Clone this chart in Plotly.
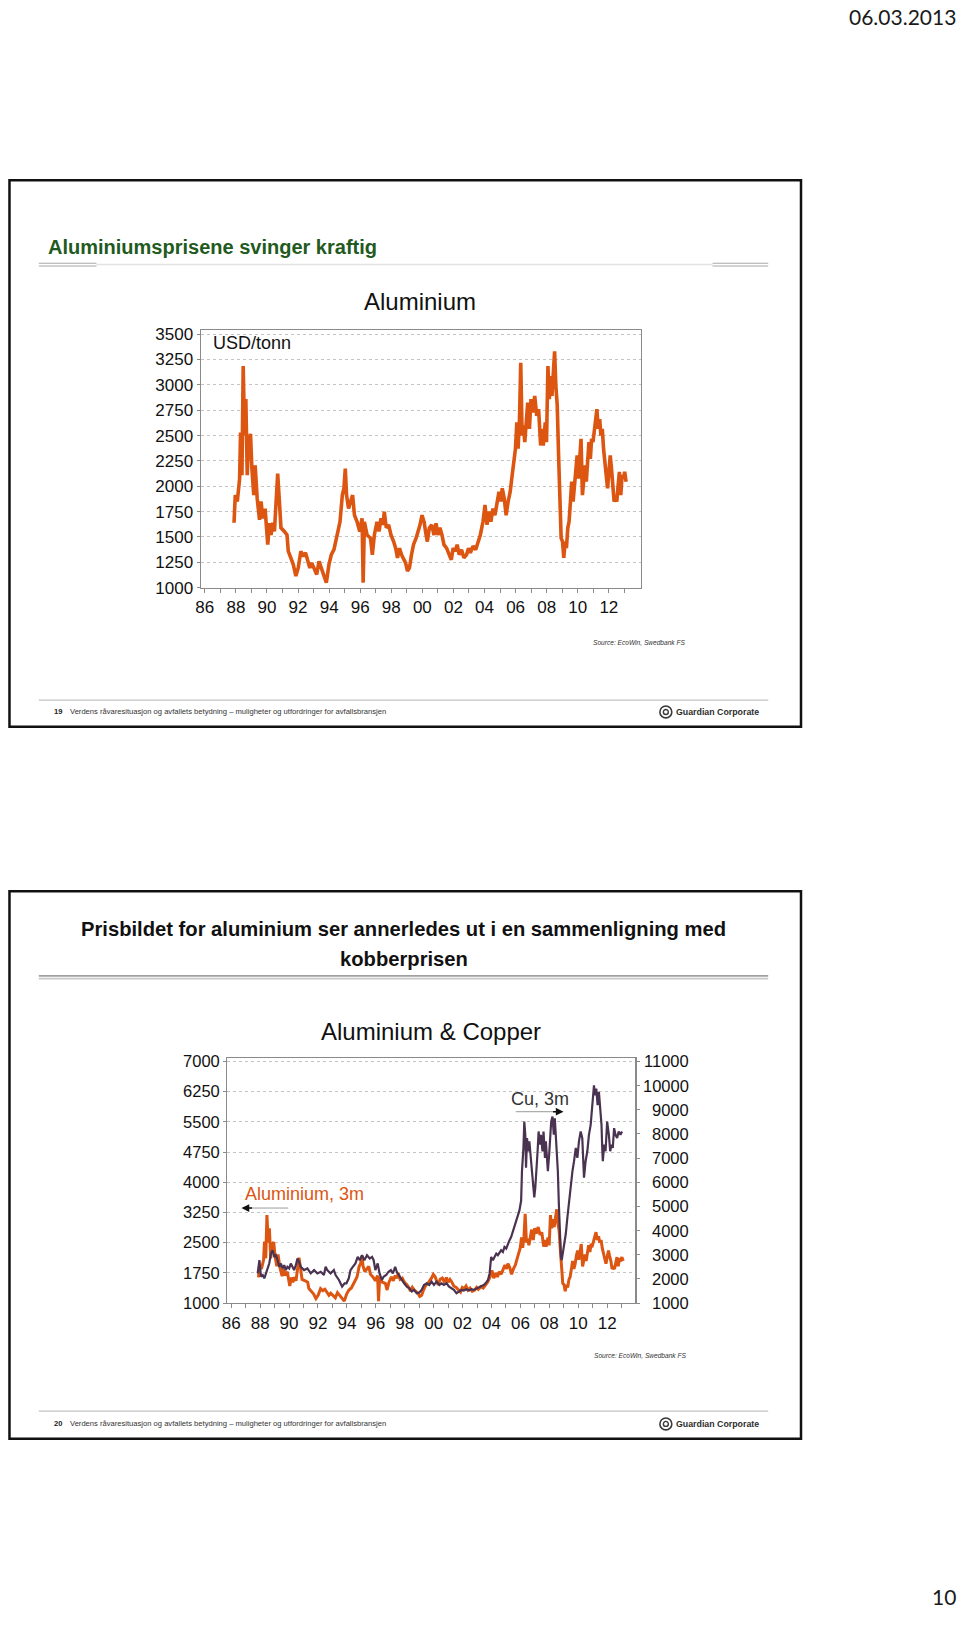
import plotly.graph_objects as go

# ---------------- data ----------------
al_year = [1987.88,1987.96,1988.09,1988.24,1988.30,1988.39,1988.47,1988.56,1988.64,1988.73,
           1988.81,1988.94,1989.03,1989.15,1989.24,1989.37,1989.52,1989.62,1989.73,1989.88,
           1990.05,1990.16,1990.26,1990.37,1990.48,1990.58,1990.69,1990.80,1990.90,1991.12,
           1991.29,1991.37,1991.54,1991.69,1991.86,1992.01,1992.18,1992.33,1992.48,1992.61,
           1992.76,1992.88,1993.03,1993.20,1993.35,1993.50,1993.67,1993.82,1993.99,1994.14,
           1994.31,1994.53,1994.70,1994.85,1994.95,1995.04,1995.12,1995.25,1995.38,1995.51,
           1995.63,1995.80,1995.97,1996.12,1996.19,1996.27,1996.44,1996.66,1996.78,1996.91,
           1997.08,1997.21,1997.34,1997.47,1997.55,1997.68,1997.83,1997.98,1998.15,1998.28,
           1998.40,1998.53,1998.66,1998.79,1998.92,1999.04,1999.17,1999.30,1999.43,1999.60,
           1999.73,1999.85,1999.98,2000.11,2000.24,2000.32,2000.45,2000.60,2000.75,2000.88,
           2001.00,2001.13,2001.26,2001.39,2001.56,2001.73,2001.86,2001.98,2002.11,2002.24,
           2002.37,2002.52,2002.67,2002.84,2002.97,2003.09,2003.26,2003.43,2003.58,2003.73,
           2003.90,2004.03,2004.16,2004.29,2004.41,2004.54,2004.67,2004.80,2004.93,2005.05,
           2005.14,2005.27,2005.39,2005.52,2005.65,2005.78,2005.91,2005.99,2006.08,2006.16,
           2006.25,2006.33,2006.42,2006.50,2006.59,2006.67,2006.78,2006.89,2006.99,2007.10,
           2007.23,2007.36,2007.48,2007.61,2007.70,2007.78,2007.91,2007.99,2008.08,2008.17,
           2008.25,2008.34,2008.42,2008.51,2008.59,2008.68,2008.76,2008.85,2008.93,2009.02,
           2009.10,2009.19,2009.27,2009.36,2009.44,2009.53,2009.61,2009.70,2009.79,2009.87,
           2009.96,2010.04,2010.13,2010.21,2010.30,2010.38,2010.47,2010.55,2010.64,2010.72,
           2010.81,2010.89,2010.98,2011.06,2011.15,2011.23,2011.32,2011.41,2011.49,2011.58,
           2011.66,2011.75,2011.83,2011.92,2012.00,2012.09,2012.17,2012.26,2012.34,2012.43,
           2012.51,2012.60,2012.68,2012.77,2012.85,2012.94,2013.02,2013.11]
al_usd = [1640,1913,1850,2076,2530,2110,3185,2500,2860,2110,
          2435,2516,2175,1913,2207,1880,1670,1850,1685,1780,
          1424,1636,1520,1640,1555,1815,2125,1850,1590,1555,
          1520,1360,1295,1230,1115,1195,1360,1310,1345,1275,
          1195,1245,1180,1130,1260,1195,1115,1050,1230,1325,
          1375,1520,1650,1913,1980,2175,1913,1780,1850,1913,
          1715,1650,1555,1685,1050,1650,1520,1490,1325,1520,
          1650,1555,1685,1620,1750,1590,1620,1520,1455,1390,
          1295,1390,1325,1275,1245,1165,1195,1325,1424,1490,
          1555,1620,1715,1650,1520,1455,1590,1620,1520,1636,
          1520,1590,1520,1424,1390,1325,1275,1390,1360,1424,
          1325,1375,1295,1325,1390,1345,1410,1375,1455,1520,
          1650,1815,1620,1750,1650,1780,1715,1850,1945,1850,
          1980,1880,1715,1850,1945,2110,2270,2370,2630,2370,
          2663,3217,2500,2600,2435,2630,2825,2565,2860,2728,
          2890,2695,2760,2402,2565,2402,2630,2435,3185,2860,
          3087,2890,3120,3330,2990,2795,2337,1945,1490,1455,
          1295,1455,1390,1590,1650,1850,2045,1850,1980,2175,
          2305,2075,2305,2467,1913,2110,2207,2045,2305,2435,
          2270,2467,2435,2565,2663,2760,2565,2663,2500,2565,
          2370,2175,2110,1980,2175,2305,2175,2045,1850,1880,
          1850,2011,2142,1913,2110,2075,2142,2045]

cu_year = [1987.83,1987.95,1988.06,1988.18,1988.29,1988.41,1988.52,1988.63,1988.75,1988.86,
           1988.98,1989.09,1989.21,1989.32,1989.44,1989.55,1989.67,1989.78,1989.89,1990.01,
           1990.12,1990.24,1990.35,1990.47,1990.58,1990.70,1990.81,1991.04,1991.27,1991.50,
           1991.73,1991.96,1992.19,1992.41,1992.53,1992.64,1992.87,1993.10,1993.22,1993.45,
           1993.67,1993.84,1993.97,1994.13,1994.25,1994.41,1994.59,1994.75,1994.89,1995.05,
           1995.21,1995.39,1995.58,1995.74,1995.85,1995.97,1996.13,1996.26,1996.42,1996.54,
           1996.72,1996.88,1997.04,1997.18,1997.34,1997.45,1997.64,1997.80,1997.96,1998.14,
           1998.33,1998.49,1998.65,1998.83,1999.01,1999.17,1999.33,1999.52,1999.70,1999.86,
           2000.02,2000.20,2000.39,2000.55,2000.71,2000.89,2001.07,2001.24,2001.40,2001.58,
           2001.76,2001.92,2002.08,2002.27,2002.45,2002.61,2002.77,2002.95,2003.14,2003.30,
           2003.46,2003.59,2003.76,2003.87,2003.98,2004.10,2004.21,2004.33,2004.44,2004.56,
           2004.67,2004.79,2004.90,2005.02,2005.13,2005.24,2005.36,2005.47,2005.59,2005.70,
           2005.82,2005.93,2006.05,2006.11,2006.21,2006.27,2006.34,2006.39,2006.46,2006.53,
           2006.62,2006.73,2006.85,2006.96,2007.03,2007.08,2007.19,2007.26,2007.35,2007.42,
           2007.53,2007.60,2007.70,2007.76,2007.83,2007.90,2007.99,2008.06,2008.13,2008.22,
           2008.31,2008.38,2008.45,2008.52,2008.59,2008.66,2008.73,2008.80,2008.86,2008.96,
           2009.05,2009.14,2009.25,2009.37,2009.48,2009.60,2009.71,2009.83,2009.94,2010.05,
           2010.17,2010.28,2010.40,2010.51,2010.63,2010.74,2010.86,2010.97,2011.09,2011.15,
           2011.25,2011.34,2011.43,2011.52,2011.61,2011.66,2011.70,2011.80,2011.89,2012.00,
           2012.12,2012.21,2012.30,2012.39,2012.48,2012.58,2012.69,2012.80,2012.92,2013.03]
cu_usd = [2230,2776,2093,2161,2025,2230,2366,2640,3049,3186,
          2913,2981,2776,2503,2640,2434,2571,2366,2503,2434,
          2640,2503,2366,2571,2844,2708,2503,2366,2434,2230,
          2366,2230,2298,2161,2503,2366,2230,2366,2161,1956,
          1683,1820,1820,2025,2366,2503,2640,2913,2776,2981,
          2776,2981,2844,2913,2776,2366,2640,2230,1956,2093,
          2161,2298,2366,2230,2503,2298,2093,1956,1820,1683,
          1615,1478,1546,1410,1437,1546,1751,1820,1751,1888,
          1751,1888,1751,1820,1751,1820,1683,1615,1546,1410,
          1478,1546,1519,1574,1519,1574,1546,1601,1656,1683,
          1751,1820,1956,2230,2913,2776,2913,3049,2981,3118,
          3186,3118,3322,3254,3459,3596,3732,3937,4142,4347,
          4552,4825,5235,6464,7421,8514,7967,6601,7831,7284,
          7694,7011,6191,5372,5781,6191,7284,8104,7557,7967,
          7284,8104,7011,7694,6738,6464,7148,8104,8514,8719,
          7967,8650,7831,7421,6464,5098,3732,2913,2776,3186,
          3459,3869,4552,5235,6055,6464,6874,7421,7011,7694,
          8104,7831,6191,6874,7284,7967,8377,9197,10016,9607,
          9880,9197,9743,9060,8377,7421,6874,7557,7284,8514,
          7967,7284,7557,7421,8240,7967,7831,8104,7967,8104]

x_tick_years = list(range(1986, 2014))
x_tick_labels = ["86", "", "88", "", "90", "", "92", "", "94", "", "96", "", "98", "",
                 "00", "", "02", "", "04", "", "06", "", "08", "", "10", "", "12", ""]
al_ticks_1 = [1000, 1250, 1500, 1750, 2000, 2250, 2500, 2750, 3000, 3250, 3500]
al_ticks_2 = [1000, 1750, 2500, 3250, 4000, 4750, 5500, 6250, 7000]
cu_ticks = [1000, 2000, 3000, 4000, 5000, 6000, 7000, 8000, 9000, 10000, 11000]

# ---------------- page geometry ----------------
W_FIG, H_FIG = 960, 1625

ORANGE = "#DC5511"
PURPLE = "#4A3350"
AXIS = "#8a8a8a"
GRID = "#c4c4c4"
FONT = "Liberation Sans, Arial, sans-serif"


def px(x):
    return x / W_FIG


def py(y):
    return 1 - y / H_FIG


fig = go.Figure()
fig.add_trace(go.Scatter(x=al_year, y=al_usd, mode="lines", xaxis="x", yaxis="y",
                         line=dict(color=ORANGE, width=3.6), hoverinfo="skip", showlegend=False))
fig.add_trace(go.Scatter(x=cu_year, y=cu_usd, mode="lines", xaxis="x2", yaxis="y4",
                         line=dict(color=PURPLE, width=2.2), hoverinfo="skip", showlegend=False))
fig.add_trace(go.Scatter(x=al_year, y=al_usd, mode="lines", xaxis="x2", yaxis="y3",
                         line=dict(color=ORANGE, width=3.0), hoverinfo="skip", showlegend=False))

c1_x = [px(196), px(639)]
c1_y = [py(587.5), py(327.7)]
c2_x = [px(222.7), px(633.3)]
c2_y = [py(1310), py(1062.7)]

TICKFONT = dict(family=FONT, size=17, color="#111")
xcommon = dict(tickvals=x_tick_years, ticktext=x_tick_labels, ticks="outside", ticklen=4,
               tickcolor=AXIS, showline=True, linecolor=AXIS, linewidth=1.2, mirror=True,
               showgrid=False, zeroline=False, tickfont=TICKFONT, fixedrange=True)
ycommon = dict(ticks="outside", ticklen=3, tickcolor=AXIS, showline=True, linecolor=AXIS,
               linewidth=1.2, zeroline=False, fixedrange=True, exponentformat="none",
               separatethousands=False)

fig.update_layout(
    width=W_FIG, height=H_FIG, margin=dict(l=0, r=0, t=0, b=0),
    paper_bgcolor="white", plot_bgcolor="white", showlegend=False,
    xaxis=dict(domain=c1_x, range=[1985.74, 2014.07], anchor="y", **xcommon),
    yaxis=dict(domain=c1_y, range=[1000, 3536], anchor="x", tickvals=al_ticks_1,
               showgrid=True, gridcolor=GRID, griddash="dot", gridwidth=1, mirror=True,
               tickfont=TICKFONT, **ycommon),
    yaxis2=dict(overlaying="y", side="right", anchor="x", range=[1000, 3536],
                tickvals=al_ticks_1, showgrid=False, tickfont=dict(family=FONT, size=16.5, color="#111"),
                **ycommon),
    xaxis2=dict(domain=c2_x, range=[1985.73, 2013.95], anchor="y3", **xcommon),
    yaxis3=dict(domain=c2_y, range=[1000, 7081], anchor="x2", tickvals=al_ticks_2,
                showgrid=True, gridcolor=GRID, griddash="dot", gridwidth=1, mirror=True,
                tickfont=dict(family=FONT, size=16.5, color="#111"), **ycommon),
    yaxis4=dict(overlaying="y3", side="right", anchor="x2", range=[1000, 11135],
                tickvals=cu_ticks, showgrid=False, showticklabels=False, **ycommon),
)

shapes = []


def hline(x0, x1, y, color, width):
    shapes.append(dict(type="line", xref="paper", yref="paper", x0=px(x0), x1=px(x1),
                       y0=py(y), y1=py(y), line=dict(color=color, width=width)))


# slide frames
for (y0, y1) in [(176, 728), (894, 1447)]:
    shapes.append(dict(type="rect", xref="paper", yref="paper", x0=px(3.5), x1=px(800),
                       y0=py(y1), y1=py(y0), line=dict(color="#111", width=2.5)))
# slide 1 title rule
hline(91, 711, 261, "#e2e2e2", 1.5)
for (a, b) in [(33, 91), (711, 767)]:
    hline(a, b, 259.8, "#a8a8a8", 1.2)
    hline(a, b, 262.6, "#a8a8a8", 1.2)
# slide 2 title rule (double)
hline(33, 767, 979.5, "#a0a0a0", 1.6)
hline(33, 767, 982.3, "#c8c8c8", 1.6)
# footer rules
hline(33, 767, 701, "#c2c2c2", 1.2)
hline(33, 767, 1419, "#c2c2c2", 1.2)
# logo circles
for yy in (713, 1432):
    shapes.append(dict(type="circle", xref="paper", yref="paper", x0=px(658), x1=px(670),
                       y0=py(yy + 6), y1=py(yy - 6), line=dict(color="#3a3a3a", width=1.6)))
    shapes.append(dict(type="circle", xref="paper", yref="paper", x0=px(661.5), x1=px(666.5),
                       y0=py(yy + 2.5), y1=py(yy - 2.5), line=dict(color="#3a3a3a", width=1.4)))
# arrow shafts
hline(513, 552, 1116.7, "#9a9a9a", 1)
hline(245, 284, 1214, "#9a9a9a", 1)
fig.update_layout(shapes=shapes)

ann = []


def text(x, y, s, size, color="#111", family=FONT, xanchor="left", bold=False, italic=False):
    if bold:
        s = "<b>" + s + "</b>"
    if italic:
        s = "<i>" + s + "</i>"
    ann.append(dict(x=px(x), y=py(y), xref="paper", yref="paper", text=s, showarrow=False,
                    xanchor=xanchor, yanchor="middle", align="center",
                    font=dict(family=family, size=size, color=color)))


DATEFONT = "Lato, Carlito, Open Sans, sans-serif"
text(958, 11, "06.03.2013", 21, "#1a1a1a", DATEFONT, "right")
text(958, 1606, "10", 21, "#1a1a1a", DATEFONT, "right")

text(40, 243.6, "Aluminiumsprisene svinger kraftig", 20, "#1F5A20", FONT, "left", bold=True)
text(417, 298.6, "Aluminium", 24, "#111", FONT, "center")
text(206, 340, "USD/tonn", 18, "#111", FONT, "left")
text(686, 643, "Source: EcoWin, Swedbank FS", 6.6, "#333", FONT, "right", italic=True)

text(400, 932, "Prisbildet for aluminium ser annerledes ut i en sammenligning med",
     20.2, "#111", FONT, "center", bold=True)
text(400, 962, "kobberprisen", 20.2, "#111", FONT, "center", bold=True)
text(428, 1035.7, "Aluminium &amp; Copper", 24, "#111", FONT, "center")
text(506, 1104, "Cu, 3m", 18, "#333", FONT, "left")
text(238, 1199.5, "Aluminium, 3m", 18, ORANGE, FONT, "left")
text(687, 1363, "Source: EcoWin, Swedbank FS", 6.6, "#333", FONT, "right", italic=True)

footer = "Verdens råvaresituasjon og avfallets betydning – muligheter og utfordringer for avfallsbransjen"
for num, yy in (("19", 713), ("20", 1432)):
    text(46, yy, num, 7.6, "#222", FONT, "left", bold=True)
    text(62, yy, footer, 7.6, "#333", FONT, "left")
    text(672, yy, "Guardian Corporate", 8.8, "#2e2e2e", FONT, "left", bold=True)

# right-hand copper axis labels (right aligned, placed on the copper scale)
for v in cu_ticks:
    ann.append(dict(x=px(689), y=v, xref="paper", yref="y4", text=str(v), showarrow=False,
                    xanchor="right", yanchor="middle",
                    font=dict(family=FONT, size=16.5, color="#111")))

# arrow heads
ann.append(dict(x=px(561), y=py(1116.7), xref="paper", yref="paper", ax=-12, ay=0, text="",
                showarrow=True, arrowhead=2, arrowsize=1.1, arrowwidth=1.4, arrowcolor="#111"))
ann.append(dict(x=px(237), y=py(1214), xref="paper", yref="paper", ax=12, ay=0, text="",
                showarrow=True, arrowhead=2, arrowsize=1.1, arrowwidth=1.4, arrowcolor="#111"))
fig.update_layout(annotations=ann)

fig.write_html("out.html", config={"displayModeBar": False, "staticPlot": True},
               post_script="document.body.style.margin='0';")
